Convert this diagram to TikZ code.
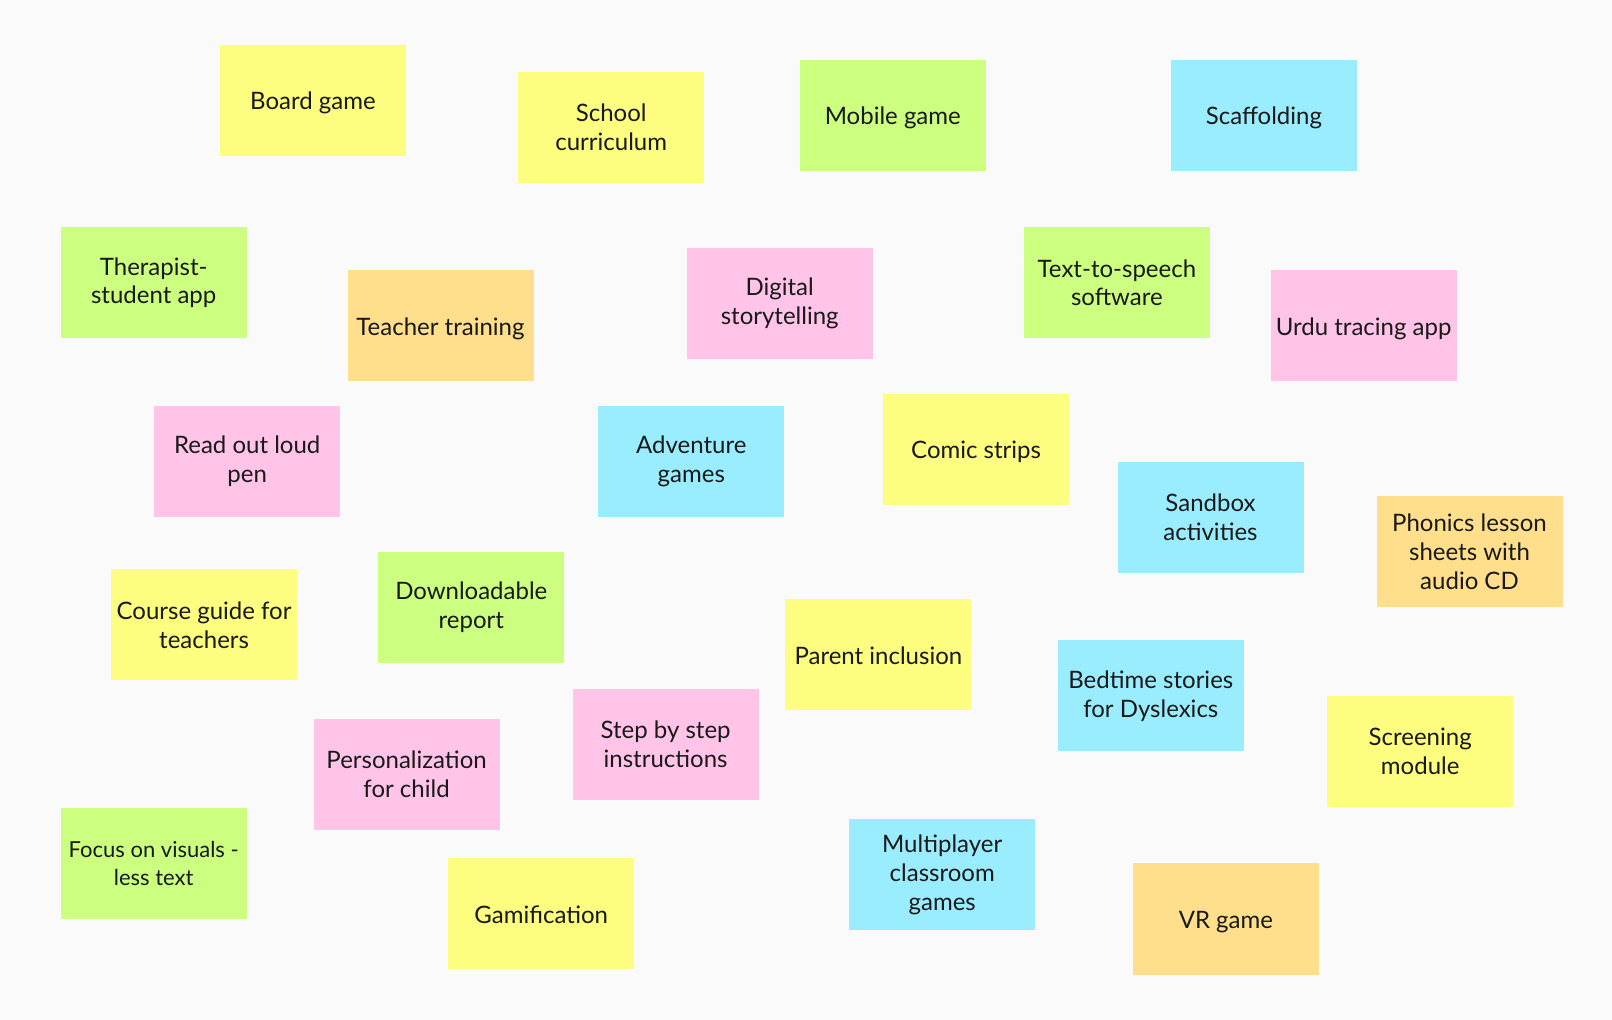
\documentclass[tikz,border=0pt]{standalone}
\usepackage{fontspec}
\setmainfont{Lato}
\definecolor{bgc}{HTML}{FAFAFA}
\definecolor{ylw}{HTML}{FDFD80}
\definecolor{grn}{HTML}{CCFF80}
\definecolor{blu}{HTML}{9AEDFF}
\definecolor{pnk}{HTML}{FFC4E8}
\definecolor{org}{HTML}{FFDE8C}
\tikzset{
  note/.style={minimum width=93pt, minimum height=55.5pt, inner sep=0pt, align=center,
    text=black!90, font=\fontsize{12}{14.4}\selectfont},
  one/.style={text height=9.5pt, text depth=0pt},
  ynote/.style={note, fill=ylw},
  gnote/.style={note, fill=grn},
  bnote/.style={note, fill=blu},
  pnote/.style={note, fill=pnk},
  onote/.style={note, fill=org},
}
\begin{document}
\begin{tikzpicture}[x=0.5pt,y=-0.5pt]
\fill[bgc] (0,0) rectangle (1612,1020);
\useasboundingbox (0,0) rectangle (1612,1020);
\node[ynote, one] (n1) at (313.0,100.2) {Board game};
\node[ynote] (n2) at (611.2,127.5) {School\\curriculum};
\node[gnote, one] (n3) at (892.8,115.1) {Mobile game};
\node[bnote, one] (n4) at (1263.9,115.1) {Scaffolding};
\node[gnote] (n5) at (153.7,282.7) {Therapist-\\student app};
\node[onote, one] (n6) at (440.5,325.9) {Teacher training};
\node[pnote] (n7) at (779.7,303.3) {Digital\\storytelling};
\node[gnote] (n8) at (1116.9,282.7) {Text-to-speech\\software};
\node[pnote, one] (n9) at (1363.6,325.9) {Urdu tracing app};
\node[pnote] (n10) at (247.2,461.6) {Read out loud\\pen};
\node[bnote] (n11) at (691.3,461.6) {Adventure\\games};
\node[ynote, one] (n12) at (976.1,449.2) {Comic strips};
\node[bnote] (n13) at (1210.5,517.1) {Sandbox\\activities};
\node[onote] (n14) at (1469.5,552.0) {Phonics lesson\\sheets with\\audio CD};
\node[ynote] (n15) at (204.1,625.0) {Course guide for\\teachers};
\node[gnote] (n16) at (471.3,607.5) {Downloadable\\report};
\node[ynote, one] (n17) at (878.4,654.8) {Parent inclusion};
\node[bnote] (n18) at (1150.8,696.0) {Bedtime stories\\for Dyslexics};
\node[ynote] (n19) at (1420.2,751.5) {Screening\\module};
\node[pnote] (n20) at (665.6,744.3) {Step by step\\instructions};
\node[pnote] (n21) at (406.6,774.1) {Personalization\\for child};
\node[gnote, font=\fontsize{11}{14.4}\selectfont] (n22) at (153.7,863.5) {Focus on visuals -\\less text};
\node[ynote, one] (n23) at (541.2,913.9) {Gamification};
\node[bnote] (n24) at (942.2,874.8) {Multiplayer\\classroom\\games};
\node[onote, one] (n25) at (1225.9,919.0) {VR game};
\end{tikzpicture}
\end{document}
